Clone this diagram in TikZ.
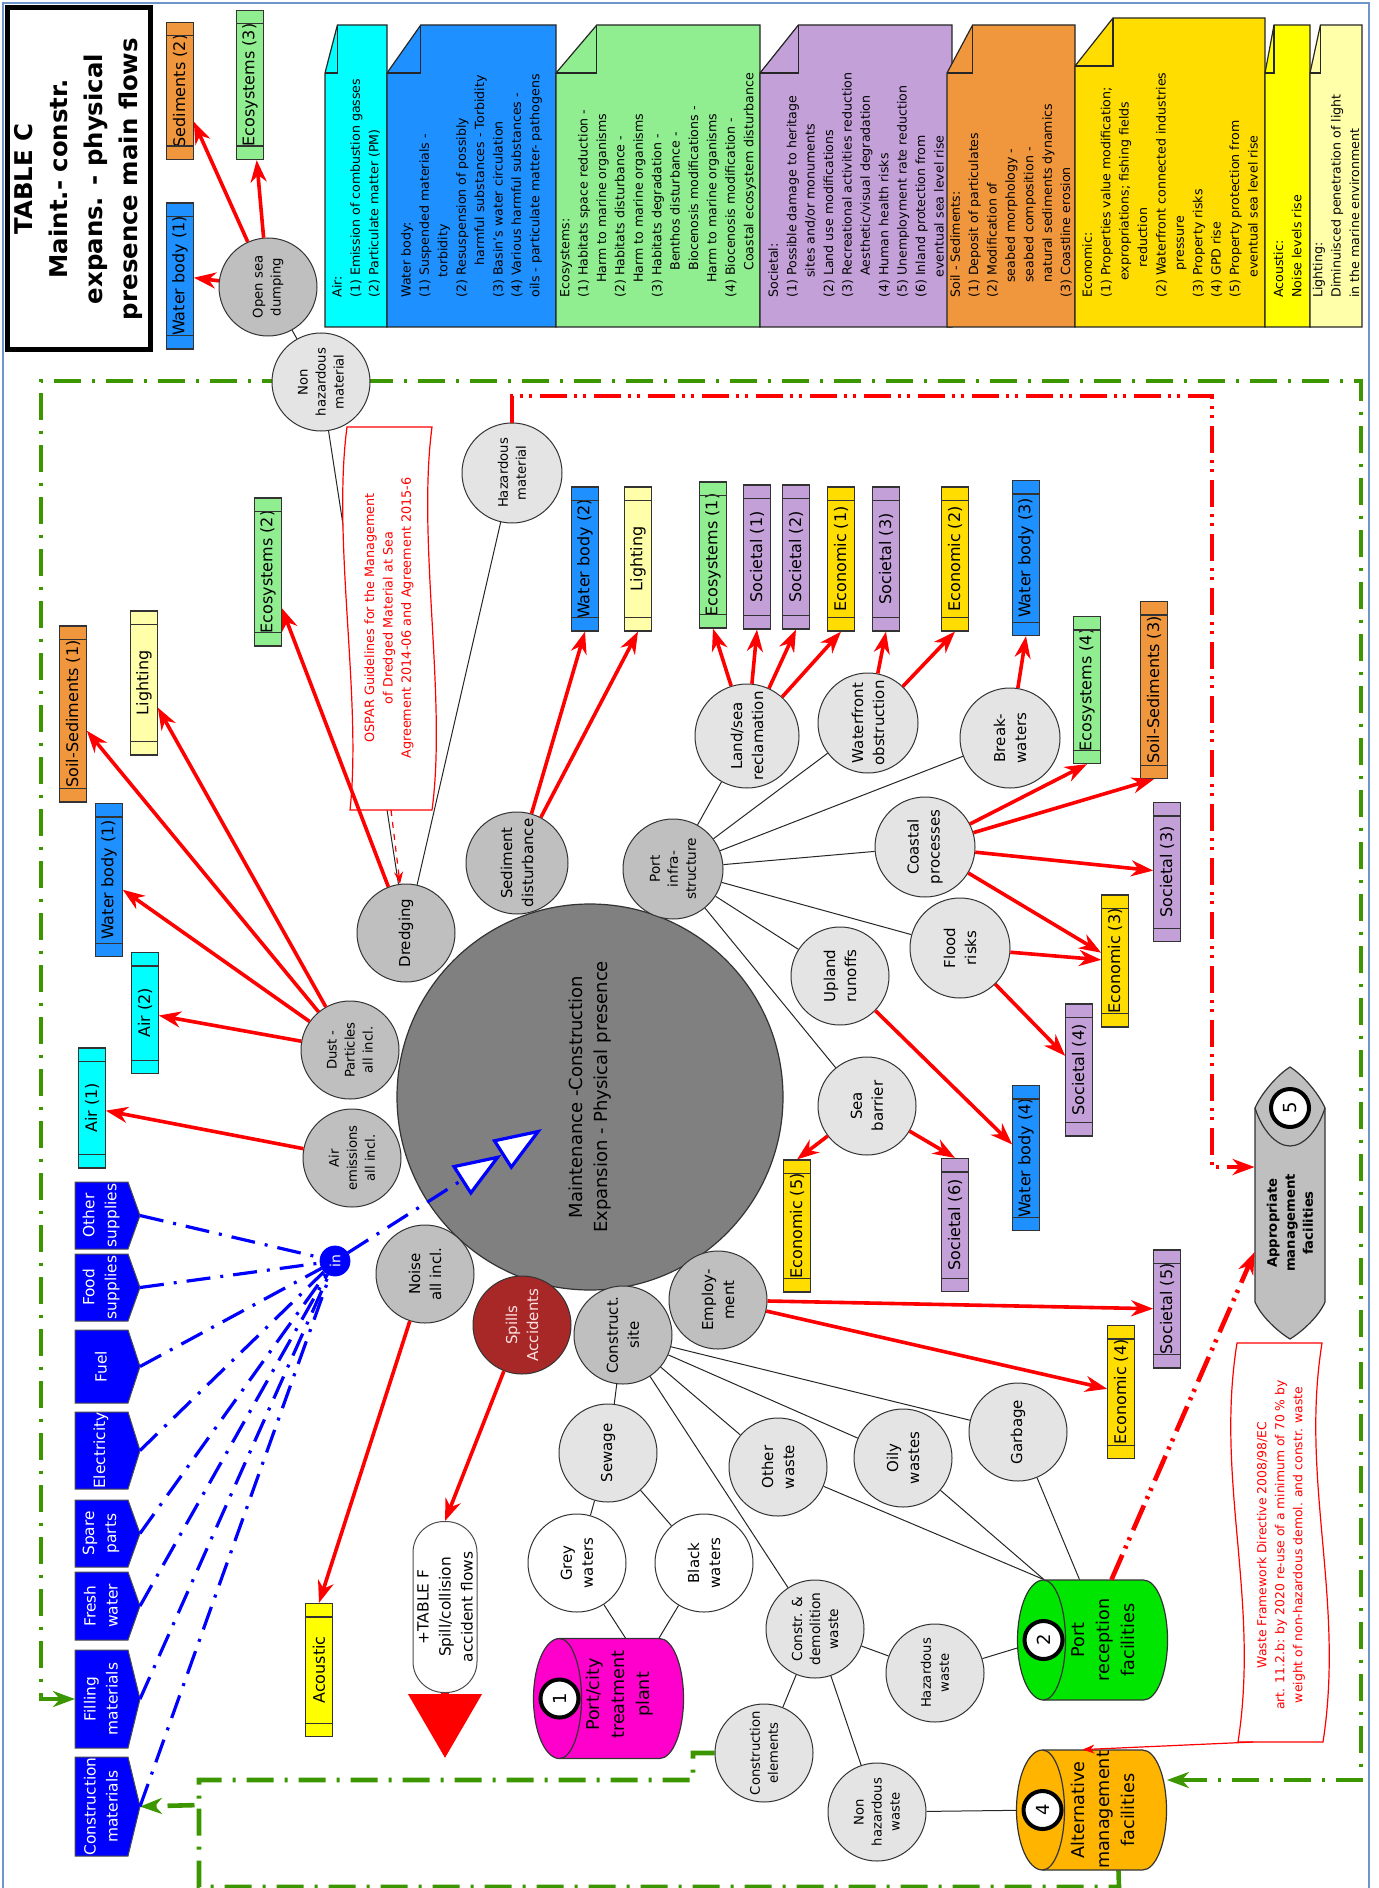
\documentclass[tikz,border=0pt]{standalone}
\usepackage{fontspec}
\setmainfont{DejaVu Sans}
\usetikzlibrary{arrows.meta,calc,backgrounds}

\definecolor{wbblue}{RGB}{30,144,255}
\definecolor{aircyan}{RGB}{0,255,255}
\definecolor{ecogreen}{RGB}{144,238,144}
\definecolor{socpurple}{RGB}{195,160,215}
\definecolor{soilorange}{RGB}{240,150,60}
\definecolor{econyellow}{RGB}{255,221,0}
\definecolor{acyellow}{RGB}{255,255,0}
\definecolor{lightyellow}{RGB}{255,255,170}
\definecolor{cirlight}{RGB}{228,228,228}
\definecolor{cirdark}{RGB}{191,191,191}
\definecolor{bigcir}{RGB}{128,128,128}
\definecolor{spillred}{RGB}{168,40,40}
\definecolor{spilltext}{RGB}{255,225,225}
\definecolor{plantmag}{RGB}{255,0,204}
\definecolor{recgreen}{RGB}{0,230,0}
\definecolor{altorange}{RGB}{255,180,0}
\definecolor{supblue}{RGB}{0,0,255}
\definecolor{bndgreen}{RGB}{60,150,0}
\definecolor{framecol}{RGB}{110,150,205}

\tikzset{
  rt/.style={rotate=90},
  cir/.style={rt, circle, draw=black!80, line width=0.5pt, minimum size=49pt,
    inner sep=0pt, align=center, font=\fontsize{7.5}{10.5}\selectfont},
  smalltext/.style={font=\fontsize{6.6}{9}\selectfont},
  lc/.style={cir, fill=cirlight},
  dc/.style={cir, fill=cirdark},
  wc/.style={cir, fill=white},
  impbox/.style={rt, rectangle, draw=black!80, line width=0.6pt, minimum height=13.2pt,
    inner sep=0pt, font=\fontsize{8}{9}\selectfont},
  impline/.style={draw=black!80, line width=0.6pt},
  redflow/.style={draw=red, line width=1.8pt, -{Stealth[length=11pt,width=8pt,inset=3.5pt]}},
  thinlink/.style={draw=black!85, line width=0.5pt},
  bnd/.style={draw=bndgreen, line width=2.3pt, dash pattern=on 13.5pt off 5.5pt on 1.5pt off 5.5pt},
  hzd/.style={draw=red, line width=2.3pt, dash pattern=on 13.5pt off 3.5pt on 1.5pt off 3pt on 1.5pt off 4pt},
  supline/.style={draw=supblue, line width=1.6pt, dash pattern=on 12pt off 5pt on 1.5pt off 5pt},
  suptext/.style={rt, align=center, inner sep=0pt, text=white, font=\fontsize{7.7}{11}\selectfont},
  legtext/.style={rt, align=left, inner sep=0pt, font=\fontsize{6.3}{9.2}\selectfont},
  notetext/.style={rt, align=center, inner sep=0pt, text=red, font=\fontsize{6.4}{9.2}\selectfont},
  numc/.style={rt, circle, draw=black, line width=2pt, fill=white, minimum size=19pt,
    inner sep=0pt, font=\fontsize{9}{10}\selectfont},
  drumtext/.style={rt, align=center, inner sep=0pt, font=\fontsize{8.8}{12.5}\selectfont},
  drumline/.style={draw=black!80, line width=0.6pt},
  gtip/.style={-{Stealth[length=11pt,width=8pt,inset=3.5pt]}},
}

% impact box: name, position, length, fill, label
\newcommand\impact[5]{%
  \node[impbox, fill=#4, minimum width=#3] (#1) at #2 {#5};
  \draw[impline] ($(#1.north west)!7pt!(#1.north east)$) -- ($(#1.south west)!7pt!(#1.south east)$);
  \draw[impline] ($(#1.north east)!7pt!(#1.north west)$) -- ($(#1.south east)!7pt!(#1.south west)$);
}

% legend note with folded corner: name, left, right, top, fill, text
\newcommand\legnote[6]{%
  \pgfmathsetmacro\foldw{0.2*(#3-#2)}
  \draw[black!85, line width=0.6pt, fill=#5] (#2,327) -- (#2,#4+48) -- (#2+\foldw,#4) -- (#3,#4) -- (#3,327) -- cycle;
  \draw[black!85, line width=0.6pt] (#2,#4+48) -- (#2+\foldw,#4+48) -- (#2+\foldw,#4);
  \node[legtext, anchor=west] (#1) at ({(#2+#3)/2},298) {#6};
}

% supply pentagon: name, top, bottom, label
\newcommand\supply[4]{%
  \draw[draw=black!70, line width=0.5pt, fill=supblue] (75,#2) -- (128,#2) -- (140,{(#2+#3)/2}) -- (128,#3) -- (75,#3) -- cycle;
  \node[suptext] (#1) at (101,{(#2+#3)/2}) {#4};
  \coordinate (#1-tip) at (140,{(#2+#3)/2});
  \coordinate (#1-in) at (75,{(#2+#3)/2});
}

% storage drum: name, x, y, fill, number, label, label offset
\newcommand\drum[7]{%
  \begin{scope}[shift={(#2,#3)}]
    \draw[drumline, fill=#4] (-50,-60) -- (50,-60) .. controls (63.3,-60) and (74,-33.1) .. (74,0)
      .. controls (74,33.1) and (63.3,60) .. (50,60) -- (-50,60)
      .. controls (-64.4,60) and (-76,33.1) .. (-76,0) .. controls (-76,-33.1) and (-64.4,-60) .. (-50,-60) -- cycle;
    \draw[drumline] (-50,-60) .. controls (-37.9,-60) and (-28,-33.1) .. (-28,0) .. controls (-28,33.1) and (-37.9,60) .. (-50,60);
    \node[numc] (#1-num) at (-50,0) {#5};
    \node[drumtext] (#1-txt) at (10,#7) {#6};
  \end{scope}
  \node[minimum width=74pt, minimum height=60pt, inner sep=0pt] (#1) at (#2,#3) {};
}

\begin{document}
\begin{tikzpicture}[x=0.5pt, y=-0.5pt]
\useasboundingbox (0,0) rectangle (1378,1888);
\draw[framecol, line width=1.2pt] (3,1892) -- (3,3) -- (1369,3) -- (1369,1892);

% ---------- title ----------
\node[rt, draw=black, line width=2.5pt, minimum width=171pt, minimum height=71.5pt, inner sep=0pt,
  align=center, font=\bfseries\fontsize{12.2}{17.5}\selectfont] (title) at (78.5,179)
  {TABLE C\\Maint.- constr.\\expans. - physical\\presence main flows};

% ---------- legend ----------
\legnote{legair}{325}{387}{25}{aircyan}{Air:\\(1) Emission of combustion gasses\\(2) Particulate matter (PM)}
\legnote{legwb}{387}{556}{25}{wbblue}{Water body:\\(1) Suspended materials -\\\hspace*{10pt}torbidity\\(2) Resuspension of possibly\\\hspace*{16pt}harmful substances - Torbidity\\(3) Basin's water circulation\\(4) Various harmful substances -\\oils - particulate matter- pathogens}
\legnote{legeco}{556}{760}{25}{ecogreen}{Ecosystems:\\(1) Habitats space reduction -\\\hspace*{7.5pt}Harm to marine organisms\\(2) Habitats disturbance -\\\hspace*{7.5pt}Harm to marine organisms\\(3) Habitats degradation -\\\hspace*{13.5pt}Benthos disturbance -\\\hspace*{13.5pt}Biocenosis modifications -\\\hspace*{7.5pt}Harm to marine organisms\\(4) Biocenosis modification -\\\hspace*{13.5pt}Coastal ecosystem disturbance}
\legnote{legsoc}{760}{952}{25}{socpurple}{Societal:\\(1) Possible damage to heritage\\\hspace*{10pt}sites and/or monuments\\(2) Land use modifications\\(3) Recreational activities reduction\\\hspace*{11pt}Aesthetic/visual degradation\\(4) Human health risks\\(5) Unemployment rate reduction\\(6) Inland protection from\\\hspace*{10pt}eventual sea level rise}
\legnote{legsoil}{947}{1075}{25}{soilorange}{Soil - Sediments:\\(1) Deposit of particulates\\(2) Modification of\\\hspace*{7.5pt}seabed morphology -\\\hspace*{7.5pt}seabed composition -\\\hspace*{7.5pt}natural sediments dynamics\\(3) Coastline erosion}
\legnote{legecon}{1075}{1265}{18}{econyellow}{Economic:\\(1) Properties value modification;\\\hspace*{8.5pt}expropriations; fishing fields\\\hspace*{15pt}reduction\\(2) Waterfront connected industries\\\hspace*{13.5pt}pressure\\(3) Property risks\\(4) GPD rise\\(5) Property protection from\\\hspace*{10pt}eventual sea level rise}
\legnote{legacou}{1265}{1310}{25}{acyellow}{Acoustic:\\Noise levels rise}
\legnote{leglight}{1310}{1362}{25}{lightyellow}{Lighting:\\Diminuisced penetration of light\\in the marine environment}

% ---------- supplies ----------
\supply{osup}{1182}{1249}{Other\\supplies}
\supply{fsup}{1254}{1321}{Food\\supplies}
\supply{fuel}{1330}{1403}{Fuel}
\supply{elec}{1412}{1489}{Electricity}
\supply{spare}{1500}{1567}{Spare\\parts}
\supply{fresh}{1572}{1640}{Fresh\\water}
\supply{fillm}{1650}{1748}{Filling\\materials}
\supply{cmat}{1757}{1856}{Construction\\materials}

% ---------- central activity ----------
\node[rt, circle, draw=black!80, line width=0.6pt, fill=bigcir, minimum size=193pt, inner sep=0pt,
  align=center, font=\fontsize{9}{12.5}\selectfont] (main) at (590,1097)
  {Maintenance -Construction\\Expansion - Physical presence};

% ---------- activity and pressure circles ----------
\node[dc, smalltext] (osd) at (268,287) {Open sea\\dumping};
\node[lc, smalltext] (nhm) at (321,382) {Non\\hazardous\\material};
\node[lc, smalltext, minimum size=50pt] (hzm) at (512,473) {Hazardous\\material};
\node[dc] (dred) at (406,933) {Dredging};
\node[dc, minimum size=51pt] (sedd) at (517,863) {Sediment\\disturbance};
\node[dc, minimum size=50pt, font=\fontsize{6.8}{9}\selectfont] (pinf) at (673,869) {Port\\infra-\\structure};
\node[lc, minimum size=52pt] (land) at (747,736) {Land/sea\\reclamation};
\node[lc, minimum size=50pt] (wfo) at (868,723) {Waterfront\\obstruction};
\node[lc, minimum size=50pt] (brk) at (1010,738) {Break-\\waters};
\node[lc, minimum size=50pt] (coast) at (925,847) {Coastal\\processes};
\node[lc, minimum size=50pt] (flood) at (960,948) {Flood\\risks};
\node[lc] (upl) at (840,976) {Upland\\runoffs};
\node[lc] (seab) at (867,1106) {Sea\\barrier};
\node[dc] (empl) at (718,1300) {Employ-\\ment};
\node[dc] (cons) at (623,1335) {Construct.\\site};
\node[cir, fill=spillred, text=spilltext] (spill) at (522,1325) {Spills\\Accidents};
\node[dc] (noise) at (425,1274) {Noise\\all incl.};
\node[dc, smalltext] (airem) at (352,1158) {Air\\emissions\\all incl.};
\node[dc, smalltext] (dust) at (350,1050) {Dust -\\Particles\\all incl.};
\node[lc] (sew) at (608,1453) {Sewage};
\node[wc] (greyw) at (577,1563) {Grey\\waters};
\node[wc] (blackw) at (704,1563) {Black\\waters};
\node[lc] (othw) at (778,1467) {Other\\waste};
\node[lc] (oily) at (903,1458) {Oily\\wastes};
\node[lc] (garb) at (1018,1432) {Garbage};
\node[lc, font=\fontsize{6.9}{9}\selectfont] (cdw) at (815,1629) {Constr. \&\\demolition\\waste};
\node[lc, smalltext] (hzw) at (935,1673) {Hazardous\\waste};
\node[lc, smalltext] (celem) at (764,1753) {Construction\\elements};
\node[lc, smalltext] (nhw) at (877,1812) {Non\\hazardous\\waste};

\node[rt, circle, fill=supblue, draw=supblue, minimum size=15pt, inner sep=0pt, text=white,
  font=\fontsize{7}{8}\selectfont] (inn) at (335,1261) {in};

% ---------- impact boxes ----------
\impact{wbA}{(180,276)}{73pt}{wbblue}{Water body (1)}
\impact{sedB}{(180,91)}{68.5pt}{soilorange}{Sediments (2)}
\impact{ecoC}{(250,85)}{74.5pt}{ecogreen}{Ecosystems (3)}
\impact{ecoB}{(268,572)}{74pt}{ecogreen}{Ecosystems (2)}
\impact{lightA}{(144,683)}{72pt}{lightyellow}{Lighting}
\impact{soilA}{(73,714)}{88pt}{soilorange}{Soil-Sediments (1)}
\impact{wbB}{(109,880)}{76.5pt}{wbblue}{Water body (1)}
\impact{airB}{(145,1013)}{60.5pt}{aircyan}{Air (2)}
\impact{airA}{(92,1108)}{60pt}{aircyan}{Air (1)}
\impact{acou}{(319,1670)}{66.5pt}{acyellow}{Acoustic}
\impact{wbC}{(585,559)}{72pt}{wbblue}{Water body (2)}
\impact{lightB}{(638,559)}{72pt}{lightyellow}{Lighting}
\impact{ecoA}{(713,555)}{73pt}{ecogreen}{Ecosystems (1)}
\impact{socA}{(757,557)}{72pt}{socpurple}{Societal (1)}
\impact{socB}{(796,557)}{72pt}{socpurple}{Societal (2)}
\impact{econA}{(841,559)}{72pt}{econyellow}{Economic (1)}
\impact{socC}{(886,559)}{72pt}{socpurple}{Societal (3)}
\impact{econB}{(955,559)}{72pt}{econyellow}{Economic (2)}
\impact{wbD}{(1026,558)}{77.5pt}{wbblue}{Water body (3)}
\impact{ecoD}{(1087,690)}{73.5pt}{ecogreen}{Ecosystems (4)}
\impact{soilC}{(1154,690)}{88.5pt}{soilorange}{Soil-Sediments (3)}
\impact{socD}{(1167,872)}{69.5pt}{socpurple}{Societal (3)}
\impact{econC}{(1115,961)}{66pt}{econyellow}{Economic (3)}
\impact{socE}{(1079,1070)}{66pt}{socpurple}{Societal (4)}
\impact{wbE}{(1026,1158)}{72.5pt}{wbblue}{Water body (4)}
\impact{socF}{(955,1225)}{66.5pt}{socpurple}{Societal (6)}
\impact{econE}{(797,1226)}{66pt}{econyellow}{Economic (5)}
\impact{socG}{(1167,1309)}{59pt}{socpurple}{Societal (5)}
\impact{econD}{(1121,1392)}{66.5pt}{econyellow}{Economic (4)}

% ---------- facilities ----------
\drum{plant}{609.5}{1698.5}{plantmag}{1}{Port/city\\treatment\\plant}{-4}
\drum{recep}{1093.5}{1640}{recgreen}{2}{Port\\reception\\facilities}{0}
\drum{altern}{1092.5}{1810}{altorange}{4}{Alternative\\management\\facilities}{0}

\draw[drumline, fill=cirdark] (1255,1108) .. controls (1261,1094) and (1277,1075) .. (1290,1067)
  .. controls (1303,1075) and (1319,1094) .. (1325,1108) -- (1325,1302)
  .. controls (1319,1316) and (1303,1331) .. (1290,1339) .. controls (1277,1331) and (1261,1316) .. (1255,1302) -- cycle;
\draw[drumline] (1255,1108) .. controls (1262,1130) and (1276,1146) .. (1290,1146) .. controls (1304,1146) and (1318,1130) .. (1325,1108);
\node[numc] (appr-num) at (1290,1108) {5};
\node[rt, align=center, inner sep=0pt, font=\bfseries\fontsize{6.6}{9}\selectfont] (appr-txt) at (1290,1223) {Appropriate\\management\\facilities};
\node[minimum width=35pt, minimum height=135pt, inner sep=0pt] (appr) at (1290,1203) {};

\node[rt, draw=black!70, line width=0.5pt, fill=white, rounded corners=15.5pt, minimum width=85.5pt,
  minimum height=32pt, inner sep=0pt, align=center, font=\fontsize{7.7}{11}\selectfont] (tablef) at (445,1607)
  {+TABLE F\\Spill/collision\\accident flows};

% ---------- regulation notes ----------
\draw[red, line width=0.6pt, fill=white] (347,427) -- (432,427) .. controls (417,540) and (447,700) .. (432,810)
  -- (350,810) .. controls (362,700) and (332,540) .. (347,427) -- cycle;
\node[notetext] (ospar) at (389,618) {OSPAR Guidelines for the Management\\of Dredged Material at Sea\\Agreement 2014-06 and Agreement 2015-6};
\coordinate (osparfoot) at (391,810);

\draw[red, line width=0.6pt, fill=white] (1237,1343) -- (1322,1343) .. controls (1300,1480) and (1345,1600) .. (1323,1742)
  -- (1238,1742) .. controls (1260,1600) and (1215,1480) .. (1237,1343) -- cycle;
\node[notetext, font=\fontsize{6.2}{9}\selectfont] (waste) at (1281,1545) {Waste Framework Directive 2008/98/EC\\art. 11.2.b: by 2020 re-use of a minimum of 70 \% by\\weight of non-hazardous demol. and constr. waste};
\coordinate (wastefoot) at (1253,1742);

% ---------- background connections ----------
\begin{scope}[on background layer]
  \draw[bnd, {Stealth[length=11pt,width=8pt,inset=3.5pt]}-{Stealth[length=11pt,width=8pt,inset=3.5pt]}]
    (fillm-in) -- (41,1699) -- (41,381) -- (1361,381) -- (1361,1780) -- ([yshift=15pt]altern.east);
  \draw[bnd, gtip] (celem) -- (693,1753) -- (693,1780) -- (199,1780) -- (199,1805) -- (cmat-tip);
  \draw[bnd] ([xshift=13pt]altern.south) -- (1119,1887) -- (199,1887) -- (199,1805);

  \draw[thinlink] (osd) -- (nhm);
  \draw[thinlink] (dred) -- (nhm);
  \draw[thinlink] (dred) -- (hzm);
  \foreach \t in {land,wfo,brk,coast,flood,upl,seab} \draw[thinlink] (pinf) -- (\t);
  \foreach \t in {sew,othw,oily,garb,cdw} \draw[thinlink] (cons) -- (\t);
  \draw[thinlink] (sew) -- (greyw);
  \draw[thinlink] (sew) -- (blackw);
  \draw[thinlink] (greyw) -- ([xshift=8pt]plant.north);
  \draw[thinlink] (blackw) -- ([xshift=24.75pt]plant.north);
  \draw[thinlink] (othw) -- ([xshift=-24.75pt]recep.north);
  \draw[thinlink] (oily) -- ([xshift=-24.75pt]recep.north);
  \draw[thinlink] (garb) -- ([xshift=-7pt]recep.north);
  \draw[thinlink] (hzw) -- (recep-num);
  \draw[thinlink] (cdw) -- (hzw);
  \draw[thinlink] (cdw) -- (celem);
  \draw[thinlink] (cdw) -- (nhw);
  \draw[thinlink] (nhw) -- (altern-num);
\end{scope}

% ---------- supply flows ----------
\foreach \s in {osup,fsup,fuel,elec,spare,fresh,fillm,cmat} \draw[supline] (\s-tip) -- (inn);
\coordinate (intip) at (542,1129);
\draw[supline, -{Triangle[length=24pt,width=17.5pt,fill=white] Triangle[length=24pt,width=17.5pt,fill=white]}] (inn) -- (intip);

% ---------- hazardous material routes ----------
\coordinate (hzc) at (1212,1167);
\draw[hzd, -{Stealth[length=11pt,width=8pt,inset=3.5pt]}] (hzm.east) -- (512,396) -- (1212,396) -- (hzc) -- (hzc -| appr.west);
\draw[hzd, -{Stealth[length=11pt,width=8pt,inset=3.5pt]}] ([xshift=9pt]recep.north) -- ([yshift=-24.5pt]appr.west);
\draw[red, line width=0.6pt, dashed, -{Stealth[length=6pt,width=4.5pt]}] (osparfoot) -- (dred);
\draw[red, line width=0.6pt, -{Stealth[length=6pt,width=4.5pt]}] (wastefoot) -- ([xshift=-5pt]altern.north);

% ---------- impact flows ----------
\draw[redflow] (osd) -- (wbA);
\draw[redflow] (osd) -- (sedB);
\draw[redflow] (osd) -- (ecoC);
\draw[redflow] (dred) -- (ecoB);
\draw[redflow] (dust) -- (airB);
\draw[redflow] (dust) -- (wbB);
\draw[redflow] (dust) -- (lightA);
\draw[redflow] (dust) -- (soilA);
\draw[redflow] (airem) -- (airA);
\draw[redflow] (noise) -- (acou.east);
\draw[redflow] (spill) -- (tablef.east);
\draw[redflow] (sedd) -- (wbC.west);
\draw[redflow] (sedd) -- (lightB.west);
\draw[redflow] (land) -- (ecoA.west);
\draw[redflow] (land) -- (socA.west);
\draw[redflow] (land) -- (socB.west);
\draw[redflow] (land) -- (econA.west);
\draw[redflow] (wfo) -- (socC.west);
\draw[redflow] (wfo) -- (econB.west);
\draw[redflow] (brk) -- (wbD.west);
\draw[redflow] (coast) -- (ecoD.west);
\draw[redflow] (coast) -- (soilC.west);
\draw[redflow] (coast) -- (socD);
\draw[redflow] (coast) -- (econC);
\draw[redflow] (flood) -- (econC);
\draw[redflow] (flood) -- (socE);
\draw[redflow] (upl) -- (wbE);
\draw[redflow] (seab) -- (econE.east);
\draw[redflow] (seab) -- (socF.east);
\draw[redflow] (empl) -- (socG);
\draw[redflow] (empl) -- (econD);
\draw[red, line width=4pt, -{Triangle[length=32pt,width=36pt]}] (tablef.west) -- ++(0,65);
\end{tikzpicture}
\end{document}
